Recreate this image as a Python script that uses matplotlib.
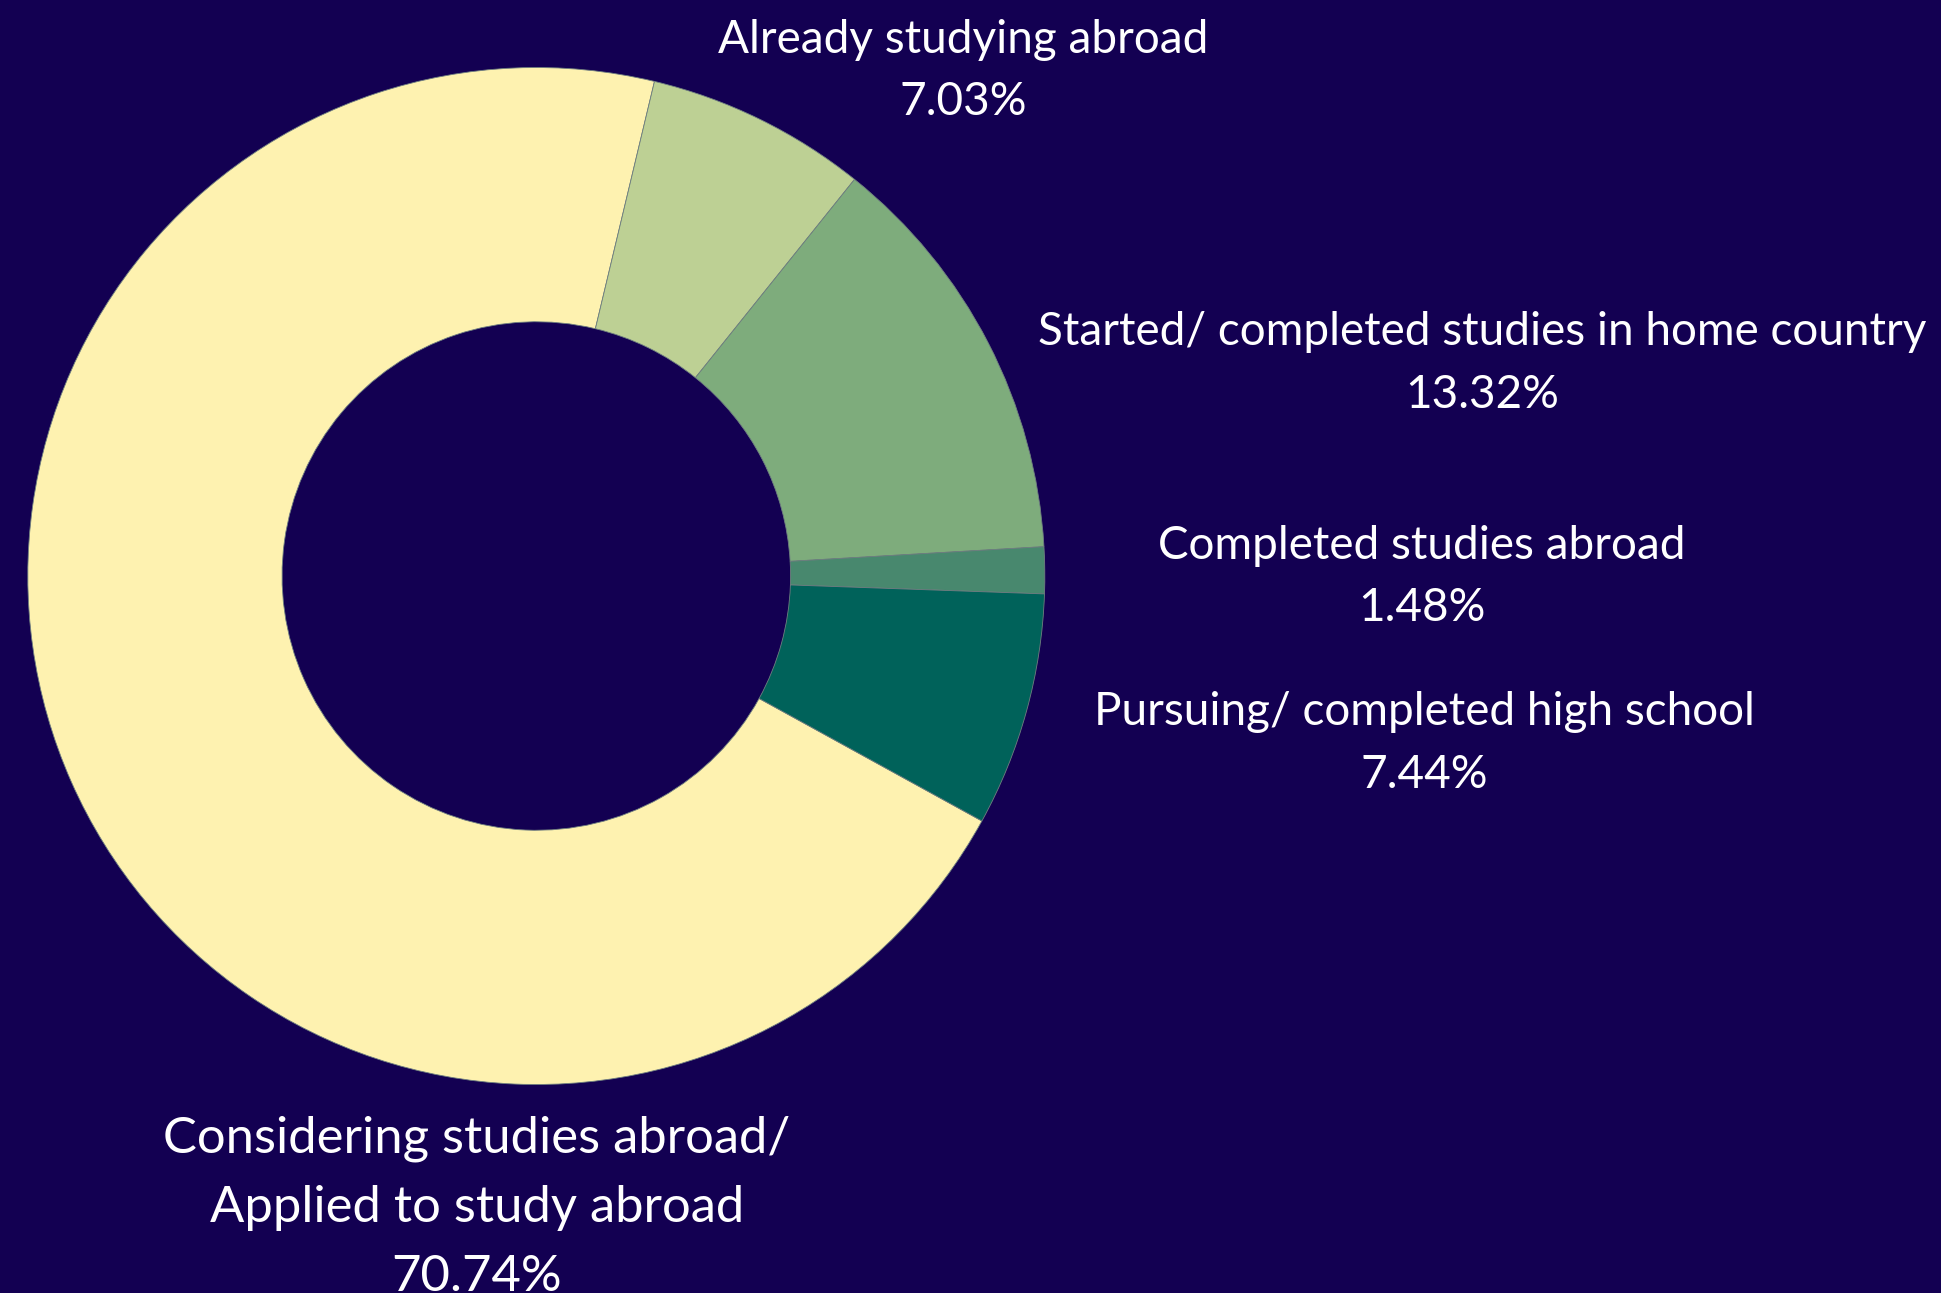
import matplotlib
matplotlib.use("Agg")
import matplotlib.pyplot as plt

categories = [
    "Considering studies abroad/\nApplied to study abroad",
    "Already studying abroad",
    "Started/ completed studies in home country",
    "Completed studies abroad",
    "Pursuing/ completed high school",
]
values = [70.74, 7.03, 13.32, 1.48, 7.44]
colors = ["#fef2b0", "#bdd094", "#7eac7c", "#48886e", "#00625a"]
bg = "#130052"

W, H = 1941, 1293
cx, cy, R = 536.3, 576.0, 508.5  # pixel centre and radius of the donut

fig = plt.figure(figsize=(W / 100, H / 100), dpi=100, facecolor=bg)
ax = fig.add_axes([0, 0, 1, 1])
ax.set_facecolor(bg)
ax.pie(values, colors=colors, startangle=-28.8, counterclock=False,
       radius=1.0, wedgeprops=dict(width=0.5, edgecolor="#6f7f80", linewidth=0.6))
ax.set_xlim(-cx / R, (W - cx) / R)
ax.set_ylim(-(H - cy) / R, cy / R)
ax.set_aspect("auto")
ax.axis("off")

# label layout: (centre x px, first line centre y px, line spacing px, font size)
layout = [
    (477, 1135, 69, 36.5),
    (963, 37, 62, 33),
    (1482, 329, 63, 33),
    (1422, 543, 62, 33),
    (1424, 709, 63, 33),
]

font = ["Lato", "DejaVu Sans"]
for cat, val, (px, py, sp, fs) in zip(categories, values, layout):
    lines = cat.split("\n") + [f"{val:.2f}%"]
    for i, line in enumerate(lines):
        yy = py + i * sp + fs * 0.48
        ax.text((px - cx) / R, (cy - yy) / R, line, ha="center", va="baseline",
                color="white", fontsize=fs, family=font)

fig.savefig("out.png", dpi=100, facecolor=bg)
